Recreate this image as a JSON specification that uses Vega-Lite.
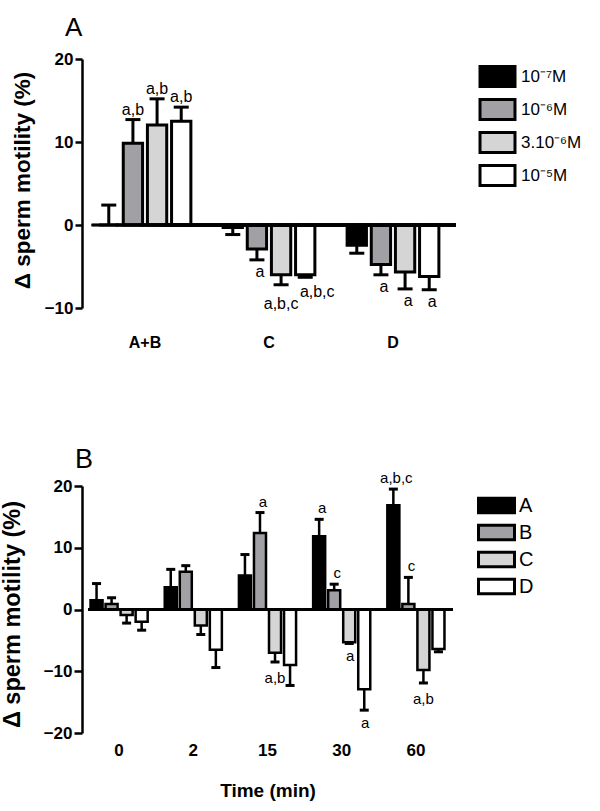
{
  "$schema": "https://vega.github.io/schema/vega-lite/v6.json",
  "padding": {"left": 0, "top": 14, "right": 0, "bottom": 0},
  "background": "white",
  "spacing": 95,
  "config": {
    "font": "Liberation Sans",
    "view": {"stroke": null},
    "axis": {"labelColor": "black", "titleColor": "black", "domainColor": "black", "tickColor": "black", "grid": false, "labelFont": "Liberation Sans", "titleFont": "Liberation Sans"},
    "legend": {"labelFont": "Liberation Sans", "labelColor": "black"},
    "text": {"font": "Liberation Sans"}
  },
  "resolve": {"scale": {"x": "independent", "y": "independent", "xOffset": "independent", "fill": "independent"}, "legend": {"fill": "independent"}},
  "datasets": {
    "conc": [
      {"g": "A+B", "c": "10⁻⁷M", "v": 0, "e": 2.4, "lab": ""},
      {"g": "A+B", "c": "10⁻⁶M", "v": 9.85, "e": 12.7, "lab": "a,b"},
      {"g": "A+B", "c": "3.10⁻⁶M", "v": 12.05, "e": 15.2, "lab": "a,b"},
      {"g": "A+B", "c": "10⁻⁵M", "v": 12.5, "e": 14.2, "lab": "a,b"},
      {"g": "C", "c": "10⁻⁷M", "v": -0.3, "e": -1.15, "lab": ""},
      {"g": "C", "c": "10⁻⁶M", "v": -2.9, "e": -4.2, "lab": "a"},
      {"g": "C", "c": "3.10⁻⁶M", "v": -6.0, "e": -7.2, "lab": "a,b,c"},
      {"g": "C", "c": "10⁻⁵M", "v": -6.0, "e": -6.3, "lab": "a,b,c"},
      {"g": "D", "c": "10⁻⁷M", "v": -2.45, "e": -3.4, "lab": ""},
      {"g": "D", "c": "10⁻⁶M", "v": -4.75, "e": -6.0, "lab": "a"},
      {"g": "D", "c": "3.10⁻⁶M", "v": -5.65, "e": -7.7, "lab": "a"},
      {"g": "D", "c": "10⁻⁵M", "v": -6.2, "e": -7.8, "lab": "a"}
    ],
    "time": [
      {"t": "0", "s": "A", "v": 1.5, "e": 4.2, "lab": ""},
      {"t": "0", "s": "B", "v": 0.9, "e": 1.9, "lab": ""},
      {"t": "0", "s": "C", "v": -0.9, "e": -2.2, "lab": ""},
      {"t": "0", "s": "D", "v": -2.0, "e": -3.35, "lab": ""},
      {"t": "2", "s": "A", "v": 3.6, "e": 6.5, "lab": ""},
      {"t": "2", "s": "B", "v": 6.1, "e": 7.1, "lab": ""},
      {"t": "2", "s": "C", "v": -2.6, "e": -4.05, "lab": ""},
      {"t": "2", "s": "D", "v": -6.5, "e": -9.4, "lab": ""},
      {"t": "15", "s": "A", "v": 5.5, "e": 8.9, "lab": ""},
      {"t": "15", "s": "B", "v": 12.4, "e": 15.7, "lab": "a"},
      {"t": "15", "s": "C", "v": -7.0, "e": -8.5, "lab": "a,b"},
      {"t": "15", "s": "D", "v": -9.0, "e": -12.3, "lab": ""},
      {"t": "30", "s": "A", "v": 11.85, "e": 14.6, "lab": "a"},
      {"t": "30", "s": "B", "v": 3.1, "e": 4.1, "lab": "c"},
      {"t": "30", "s": "C", "v": -5.3, "e": -5.5, "lab": "a"},
      {"t": "30", "s": "D", "v": -12.9, "e": -16.3, "lab": "a"},
      {"t": "60", "s": "A", "v": 16.9, "e": 19.5, "lab": "a,b,c"},
      {"t": "60", "s": "B", "v": 0.9, "e": 5.2, "lab": "c"},
      {"t": "60", "s": "C", "v": -9.8, "e": -11.9, "lab": "a,b"},
      {"t": "60", "s": "D", "v": -6.4, "e": -6.85, "lab": ""}
    ]
  },
  "vconcat": [
    {
      "width": 374,
      "height": 249,
      "title": {"text": "A", "fontSize": 26, "fontWeight": "normal", "anchor": "start", "frame": "group", "dx": -17, "offset": -11.5, "baseline": "alphabetic", "color": "black", "font": "Liberation Sans"},
      "data": {"name": "conc"},
      "encoding": {
        "x": {"field": "g", "type": "nominal", "sort": ["A+B", "C", "D"], "scale": {"paddingInner": 0.26, "paddingOuter": 0.138},
          "axis": {"title": null, "domain": false, "ticks": false, "labelAngle": 0, "labelFontSize": 16, "labelFontWeight": "bold", "labelPadding": 26}},
        "xOffset": {"field": "c", "type": "nominal", "sort": ["10⁻⁷M", "10⁻⁶M", "3.10⁻⁶M", "10⁻⁵M"], "scale": {"paddingInner": 0.2, "paddingOuter": 0}}
      },
      "layer": [
        {
          "mark": {"type": "bar", "stroke": "black", "strokeWidth": 3},
          "encoding": {
            "y": {"field": "v", "type": "quantitative", "scale": {"domain": [-10, 20], "nice": false},
              "axis": {"title": "Δ sperm motility (%)", "values": [-10, 0, 10, 20], "titleFontSize": 22.5, "titleFontWeight": "bold", "labelFontSize": 17, "labelFontWeight": "bold", "tickSize": 7, "tickWidth": 2.5, "domainWidth": 2.5, "labelPadding": 2, "titlePadding": 10, "titleY": 121}},
            "fill": {"field": "c", "type": "nominal", "scale": {"domain": ["10⁻⁷M", "10⁻⁶M", "3.10⁻⁶M", "10⁻⁵M"], "range": ["#000000", "#a1a1a5", "#d5d5d5", "#ffffff"]},
              "legend": {"orient": "none", "legendX": 397, "legendY": 5, "direction": "vertical", "title": null, "symbolType": "M-1.59,-0.91H1.59V0.91H-1.59Z", "symbolSize": 484, "symbolStrokeColor": "black", "symbolStrokeWidth": 3, "symbolOffset": 6, "labelOffset": 11, "labelFontSize": 17, "rowPadding": 0}}
          }
        },
        {
          "mark": {"type": "rule", "strokeWidth": 3, "color": "black"},
          "encoding": {"y": {"field": "v", "type": "quantitative"}, "y2": {"field": "e"}}
        },
        {
          "mark": {"type": "tick", "color": "black", "size": 15, "thickness": 3, "opacity": 1},
          "encoding": {"y": {"field": "e", "type": "quantitative"}}
        },
        {
          "mark": {"type": "rule", "strokeWidth": 2.5, "color": "black"},
          "encoding": {"y": {"datum": 0}, "x": {"value": 0}, "x2": {"value": 374}}
        },
        {
          "transform": [{"filter": "datum.lab != '' && datum.v >= 0"}],
          "mark": {"type": "text", "fontSize": 16, "baseline": "alphabetic", "dy": -5, "color": "black"},
          "encoding": {"y": {"field": "e", "type": "quantitative"}, "text": {"field": "lab"}}
        },
        {
          "transform": [{"filter": "datum.lab == 'a' && datum.v < 0"}],
          "mark": {"type": "text", "fontSize": 16, "baseline": "alphabetic", "dy": 17.5, "dx": 3, "color": "black"},
          "encoding": {"y": {"field": "e", "type": "quantitative"}, "text": {"field": "lab"}}
        },
        {
          "transform": [{"filter": "datum.lab == 'a,b,c' && datum.c == '3.10⁻⁶M'"}],
          "mark": {"type": "text", "fontSize": 16, "baseline": "alphabetic", "dy": 24, "color": "black"},
          "encoding": {"y": {"field": "e", "type": "quantitative"}, "text": {"field": "lab"}}
        },
        {
          "transform": [{"filter": "datum.lab == 'a,b,c' && datum.c == '10⁻⁵M'"}],
          "mark": {"type": "text", "fontSize": 16, "baseline": "alphabetic", "dy": 20, "dx": 12, "color": "black"},
          "encoding": {"y": {"field": "e", "type": "quantitative"}, "text": {"field": "lab"}}
        }
      ]
    },
    {
      "width": 371,
      "height": 247,
      "title": {"text": "B", "fontSize": 27, "fontWeight": "normal", "anchor": "start", "frame": "group", "dx": -7, "offset": -23.5, "baseline": "alphabetic", "color": "black", "font": "Liberation Sans"},
      "data": {"name": "time"},
      "encoding": {
        "x": {"field": "t", "type": "nominal", "sort": ["0", "2", "15", "30", "60"], "scale": {"paddingInner": 0.23, "paddingOuter": 0.115},
          "axis": {"title": "Time (min)", "titleFontSize": 19, "titleFontWeight": "bold", "titlePadding": 23.5, "domain": false, "ticks": false, "labelAngle": 0, "labelFontSize": 17, "labelFontWeight": "bold", "labelPadding": 9}},
        "xOffset": {"field": "s", "type": "nominal", "sort": ["A", "B", "C", "D"], "scale": {"paddingInner": 0.2, "paddingOuter": 0}}
      },
      "layer": [
        {
          "mark": {"type": "bar", "stroke": "black", "strokeWidth": 2.5},
          "encoding": {
            "y": {"field": "v", "type": "quantitative", "scale": {"domain": [-20, 20], "nice": false},
              "axis": {"title": "Δ sperm motility (%)", "values": [-20, -10, 0, 10, 20], "titleFontSize": 23.5, "titleFontWeight": "bold", "labelFontSize": 17, "labelFontWeight": "bold", "tickSize": 8, "tickWidth": 2.5, "domainWidth": 2.5, "labelPadding": 2, "titlePadding": 19, "titleY": 128}},
            "fill": {"field": "s", "type": "nominal", "scale": {"domain": ["A", "B", "C", "D"], "range": ["#000000", "#a1a1a5", "#d5d5d5", "#ffffff"]},
              "legend": {"orient": "none", "legendX": 395, "legendY": 8, "direction": "vertical", "title": null, "symbolType": "M-1.8,-0.72H1.8V0.72H-1.8Z", "symbolSize": 400, "symbolStrokeColor": "black", "symbolStrokeWidth": 3, "symbolOffset": 8, "labelOffset": 11, "labelFontSize": 20, "rowPadding": 0}}
          }
        },
        {
          "mark": {"type": "rule", "strokeWidth": 2.5, "color": "black"},
          "encoding": {"y": {"field": "v", "type": "quantitative"}, "y2": {"field": "e"}}
        },
        {
          "mark": {"type": "tick", "color": "black", "size": 9, "thickness": 3, "opacity": 1},
          "encoding": {"y": {"field": "e", "type": "quantitative"}}
        },
        {
          "mark": {"type": "rule", "strokeWidth": 2.5, "color": "black"},
          "encoding": {"y": {"datum": 0}, "x": {"value": 0}, "x2": {"value": 371}}
        },
        {
          "transform": [{"filter": "datum.lab != '' && datum.v >= 0"}],
          "mark": {"type": "text", "fontSize": 15, "baseline": "alphabetic", "dy": -6, "dx": 3, "color": "black"},
          "encoding": {"y": {"field": "e", "type": "quantitative"}, "text": {"field": "lab"}}
        },
        {
          "transform": [{"filter": "datum.lab == 'a' && datum.v < 0"}],
          "mark": {"type": "text", "fontSize": 15, "baseline": "alphabetic", "dy": 18, "dx": 1, "color": "black"},
          "encoding": {"y": {"field": "e", "type": "quantitative"}, "text": {"field": "lab"}}
        },
        {
          "transform": [{"filter": "datum.lab == 'a,b' && datum.v < 0"}],
          "mark": {"type": "text", "fontSize": 15, "baseline": "alphabetic", "dy": 21, "color": "black"},
          "encoding": {"y": {"field": "e", "type": "quantitative"}, "text": {"field": "lab"}}
        }
      ]
    }
  ]
}
